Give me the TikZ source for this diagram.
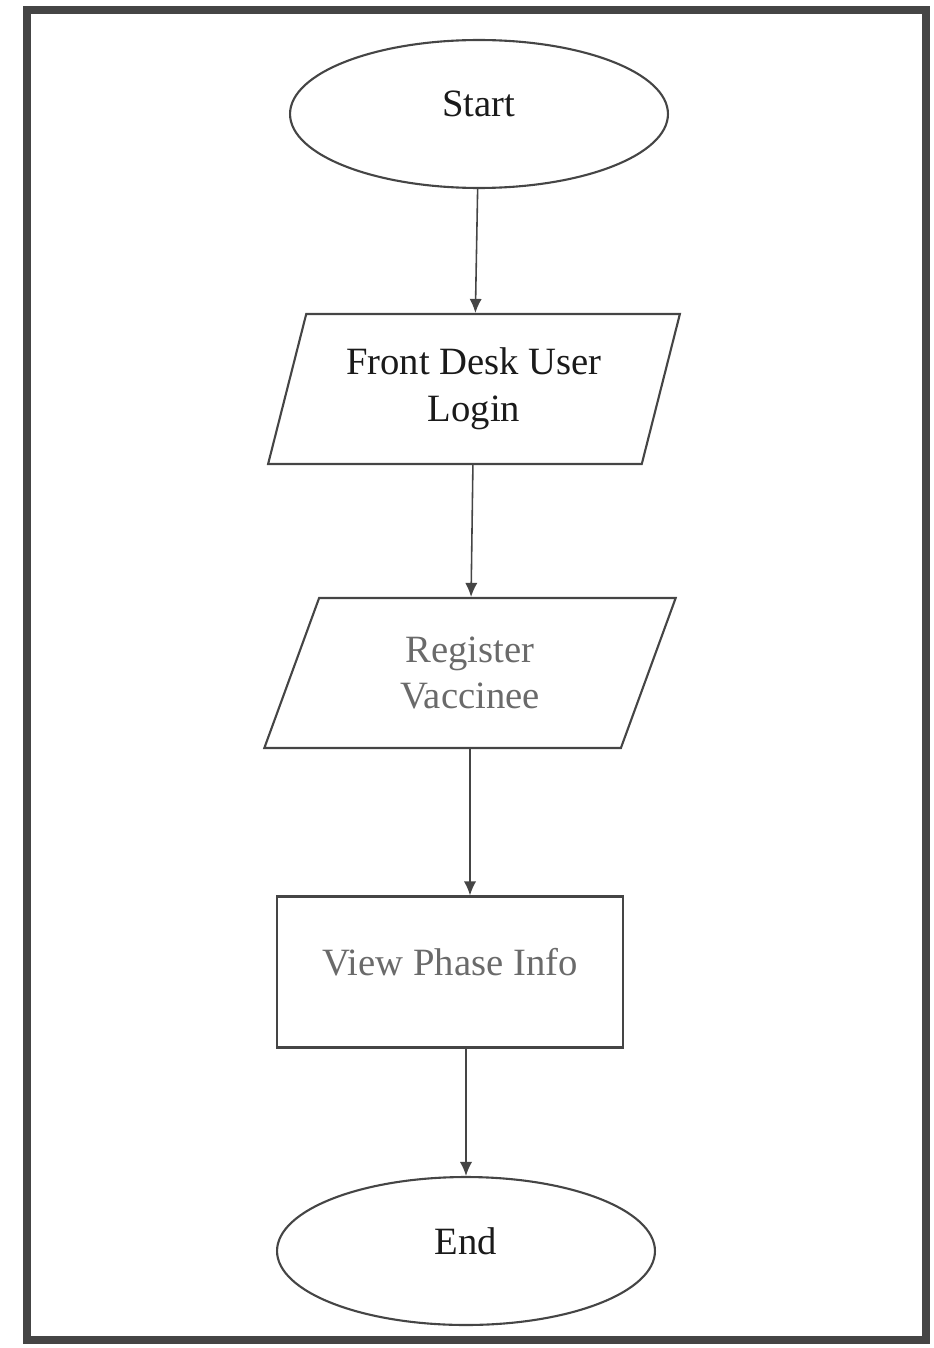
\documentclass[tikz,border=0pt]{standalone}
\usepackage{fontspec}
\setmainfont{Liberation Serif}
\usetikzlibrary{shapes,arrows,positioning,calc,arrows.meta}

\definecolor{linegray}{HTML}{454545}
\definecolor{inkdark}{HTML}{1A1A1A}
\definecolor{inklight}{HTML}{6A6A6A}

\tikzset{
  flowline/.style={draw=linegray, line width=1.2pt},
  bigtext/.style={font=\fontsize{22}{26.5}\selectfont, align=center},
  terminal/.style={flowline, bigtext, ellipse, minimum width=7.56cm, minimum height=2.96cm, text depth=0.4cm},
  iobox/.style={flowline, bigtext, trapezium, trapezium left angle=72, trapezium right angle=108,
    trapezium stretches=true, minimum width=8.24cm, minimum height=3cm},
  procbox/.style={flowline, bigtext, rectangle, minimum width=6.92cm, minimum height=3.02cm, text depth=0.4cm},
  arr/.style={-{Latex[length=8pt,width=7pt]}, draw=linegray, line width=0.9pt}
}

\begin{document}
\begin{tikzpicture}[x=0.02cm, y=-0.02cm]
    \useasboundingbox (0,0) rectangle (933,1348);
    % page frame
    \draw[linegray, line width=0.16cm] (27,10) rectangle (926,1340);

    \node[terminal, text=inkdark] (start) at (479,114) {Start};
    \node[iobox, text=inkdark] (login) at (474,389) {Front Desk User\\Login};
    \node[iobox, text=inklight] (reg) at (470,673) {Register\\Vaccinee};
    \node[procbox, text=inklight] (view) at (450,972) {View Phase Info};
    \node[terminal, text=inkdark] (end) at (466,1251) {End};

    \draw[arr] (start) -- (login);
    \draw[arr] (login) -- (reg);
    \draw[arr] (reg.south) -- (reg.south |- view.north);
    \draw[arr] (end |- view.south) -- (end.north);
\end{tikzpicture}
\end{document}
